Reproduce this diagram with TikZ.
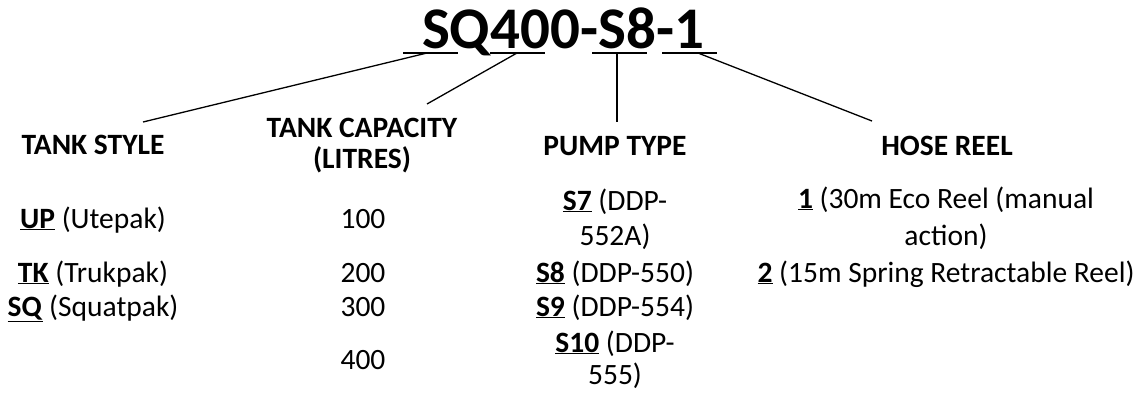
\documentclass[tikz,border=0pt]{standalone}
\usepackage{fontspec}
\setmainfont{Carlito}
\newcommand{\ul}[1]{\underline{\textbf{#1}}}
\begin{document}
\begin{tikzpicture}[x=1pt,y=-1pt,
  txt/.style={anchor=base,inner sep=0pt,font=\fontsize{29.5}{35}\selectfont},
  hdr/.style={anchor=base,inner sep=0pt,font=\fontsize{29.5}{35}\selectfont\bfseries},
  conn/.style={line width=1.3pt},
  uline/.style={line width=1.8pt}]
\useasboundingbox (0,0) rectangle (1142,392);
% title
\node[anchor=base,inner sep=0pt,font=\fontsize{59}{65}\selectfont\bfseries] (title) at (563,48) {SQ400-S8-1};
% underline segments
\coordinate (a1) at (403,53); \coordinate (b1) at (458,53);
\coordinate (a2) at (490,53); \coordinate (b2) at (545,53);
\coordinate (a3) at (592,53); \coordinate (b3) at (647,53);
\coordinate (a4) at (662,53); \coordinate (b4) at (717,53);
\draw[uline] (a1) -- (b1);
\draw[uline] (a2) -- (b2);
\draw[uline] (a3) -- (b3);
\draw[uline] (a4) -- (b4);
% connector start / end points
\coordinate (u1) at (427,53); \coordinate (e1) at (143,122);
\coordinate (u2) at (517,53); \coordinate (e2) at (427,104);
\coordinate (u3) at (617,53); \coordinate (e3) at (617,122);
\coordinate (u4) at (698,53); \coordinate (e4) at (872,121);
\draw[conn] (u1) -- (e1);
\draw[conn] (u2) -- (e2);
\draw[conn] (u3) -- (e3);
\draw[conn] (u4) -- (e4);
% headers
\node[hdr] (h1) at (93,154) {TANK STYLE};
\node[hdr] (h2a) at (362,137) {TANK CAPACITY};
\node[hdr] (h2b) at (362,168) {(LITRES)};
\node[hdr] (h3) at (615,155) {PUMP TYPE};
\node[hdr] (h4) at (947,155) {HOSE REEL};
% tank style
\node[txt] (s1) at (93,228) {\ul{UP} (Utepak)};
\node[txt] (s2) at (93,282) {\ul{TK} (Trukpak)};
\node[txt] (s3) at (93,316) {\ul{SQ} (Squatpak)};
% capacity
\node[txt] (c1) at (363,228) {100};
\node[txt] (c2) at (363,282) {200};
\node[txt] (c3) at (363,316) {300};
\node[txt] (c4) at (363,369) {400};
% pump type
\node[txt] (p1a) at (615,210) {\ul{S7} (DDP-};
\node[txt] (p1b) at (615,245) {552A)};
\node[txt] (p2) at (615,282) {\ul{S8} (DDP-550)};
\node[txt] (p3) at (615,316) {\ul{S9} (DDP-554)};
\node[txt] (p4a) at (615,352) {\ul{S10} (DDP-};
\node[txt] (p4b) at (615,384) {555)};
% hose reel
\node[txt] (r1a) at (946,208) {\ul{1} (30m Eco Reel (manual};
\node[txt] (r1b) at (946,245) {action)};
\node[txt] (r2) at (946,282) {\ul{2} (15m Spring Retractable Reel)};
\end{tikzpicture}
\end{document}
